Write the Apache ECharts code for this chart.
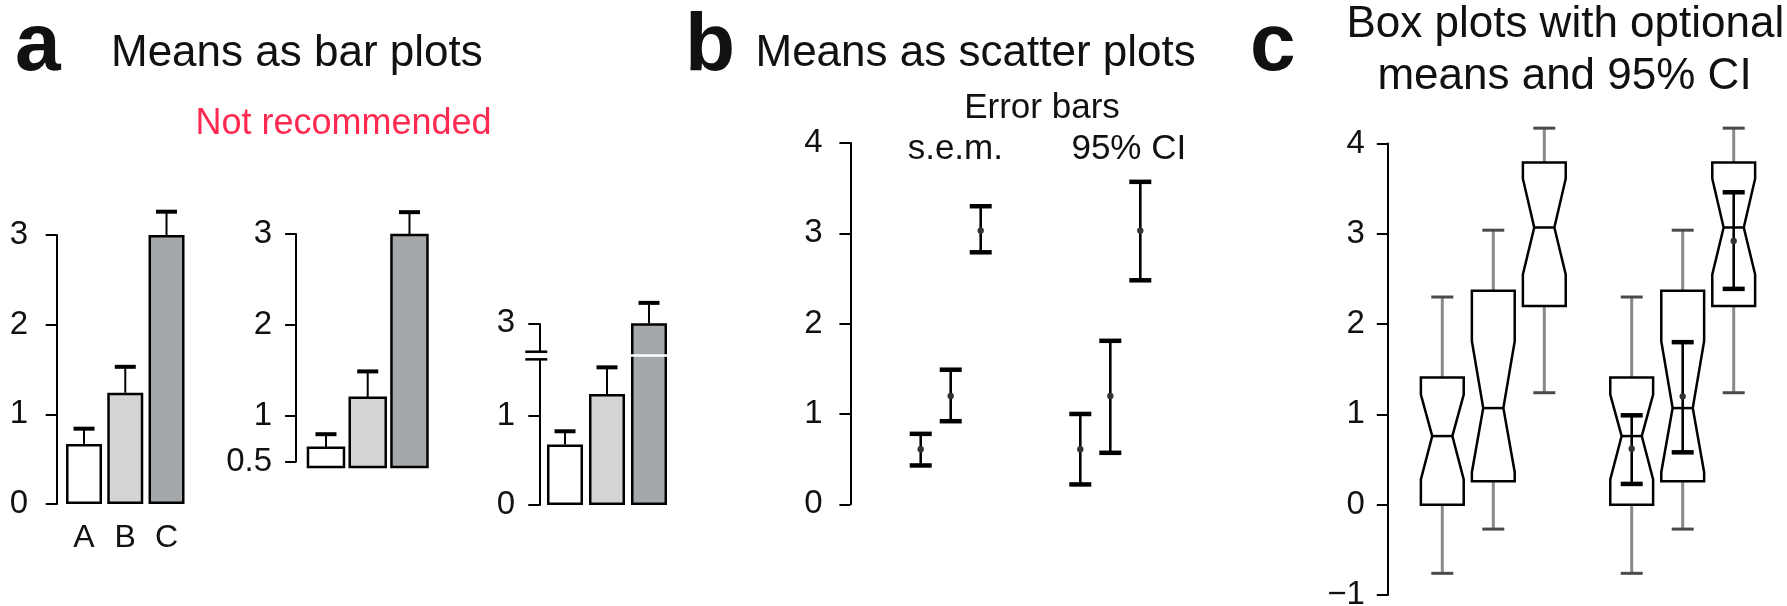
<!DOCTYPE html>
<html><head><meta charset="utf-8">
<script src="https://cdn.jsdelivr.net/npm/echarts@6/dist/echarts.min.js"></script>
<style>html,body{margin:0;padding:0;background:#fff}#c{width:1787px;height:606px}</style>
</head><body><div id="c"></div>
<script>
// ---------------- data ----------------
const categories = ['A', 'B', 'C'];
// panel a (three bar-plot variants)
const a1Means = [0.67, 1.24, 3.00];
const a1Upper = [0.84, 1.53, 3.26];
const a2Means = [0.65, 1.20, 2.99];
const a2Upper = [0.80, 1.49, 3.24];
const a2Base = 0.44;
const a3Means = [0.68, 1.25, 3.00];
const a3Upper = [0.83, 1.55, 3.23];
const a3Break = [1.64, 2.68];
const a1Ticks = [0, 1, 2, 3];
const a2Ticks = [0.5, 1, 2, 3];
const a3Ticks = [0, 1, 3];
// panel b (means with error bars)
const bMeans = [0.61, 1.20, 3.03];
const semLow = [0.43, 0.92, 2.79];
const semHigh = [0.78, 1.49, 3.30];
const ciLow = [0.22, 0.57, 2.48];
const ciHigh = [1.00, 1.81, 3.57];
const bTicks = [0, 1, 2, 3, 4];
// panel c (notched box plots)
const whiskerLow = [-0.76, -0.27, 1.24];
const boxQ1 = [0.00, 0.26, 2.20];
const notchLow = [0.28, 0.36, 2.55];
const boxMedian = [0.76, 1.07, 3.07];
const notchHigh = [1.22, 1.81, 3.61];
const boxQ3 = [1.41, 2.37, 3.79];
const whiskerHigh = [2.30, 3.04, 4.17];
const cMeans = [0.62, 1.20, 2.92];
const cCiLow = [0.23, 0.58, 2.39];
const cCiHigh = [0.99, 1.80, 3.46];
const cTicks = [-1, 0, 1, 2, 3, 4];

// ---------------- style ----------------
const FONT = "'Liberation Sans', Arial, Helvetica, sans-serif";
const BAR_FILL = ['#ffffff', '#d3d5d5', '#a5a8aa'];
const INK = '#111';

function yAx(grid, ticks, offset, margin, extra) {
  return Object.assign({
    type: 'value', gridIndex: grid,
    min: ticks[0], max: ticks[ticks.length - 1], interval: 1,
    offset: offset,
    axisLine: { show: true, lineStyle: { color: '#000', width: 2 } },
    axisTick: { show: true, length: 11, lineStyle: { color: '#000', width: 2 }, customValues: ticks },
    axisLabel: { show: true, color: INK, fontSize: 33, fontFamily: FONT, margin: margin,
      customValues: ticks,
      formatter: v => String(v).replace('-', '\u2212') },
    splitLine: { show: false }
  }, extra || {});
}
function yHidden(grid, ticks) {
  return { type: 'value', gridIndex: grid, min: ticks[0], max: ticks[ticks.length - 1], show: false, splitLine: { show: false } };
}
function xAx(grid, showLabels) {
  return {
    type: 'category', gridIndex: grid, data: categories,
    axisLine: { show: false }, axisTick: { show: false }, splitLine: { show: false },
    axisLabel: { show: showLabels, color: INK, fontSize: 32, fontFamily: FONT, margin: 18 }
  };
}
function gridAt(left, top, width, height) {
  return { left, top, width, height, containLabel: false, outerBoundsMode: 'none' };
}

// error bar going up from the bar top
function upErr(params, api) {
  const i = api.value(0);
  const p0 = api.coord([i, api.value(1)]);
  const p1 = api.coord([i, api.value(2)]);
  const h = 10.5;
  return { type: 'group', children: [
    { type: 'line', shape: { x1: p0[0], y1: p0[1], x2: p1[0], y2: p1[1] }, style: { stroke: '#000', lineWidth: 2 } },
    { type: 'line', shape: { x1: p1[0] - h, y1: p1[1], x2: p1[0] + h, y2: p1[1] }, style: { stroke: '#000', lineWidth: 4 } }
  ]};
}
// bar drawn from a base value (panel a, middle)
function baseBar(params, api) {
  const i = api.value(0);
  const p0 = api.coord([i, api.value(1)]);
  const p1 = api.coord([i, api.value(2)]);
  const w = 36;
  return { type: 'rect', shape: { x: p0[0] - w / 2, y: p1[1], width: w, height: p0[1] - p1[1] },
    style: { fill: BAR_FILL[i], stroke: '#000', lineWidth: 2.5 } };
}
// mean with two-sided error bar
function ciErr(params, api) {
  const i = api.value(0);
  const pm = api.coord([i, api.value(1)]);
  const pl = api.coord([i, api.value(2)]);
  const ph = api.coord([i, api.value(3)]);
  const x = pm[0], h = 11;
  return { type: 'group', children: [
    { type: 'line', shape: { x1: x, y1: pl[1], x2: x, y2: ph[1] }, style: { stroke: '#000', lineWidth: 2.6 } },
    { type: 'line', shape: { x1: x - h, y1: pl[1], x2: x + h, y2: pl[1] }, style: { stroke: '#000', lineWidth: 4.5 } },
    { type: 'line', shape: { x1: x - h, y1: ph[1], x2: x + h, y2: ph[1] }, style: { stroke: '#000', lineWidth: 4.5 } },
    { type: 'circle', shape: { cx: x, cy: pm[1], r: 3.2 }, style: { fill: '#333' } }
  ]};
}
// notched box plot
function notchedBox(params, api) {
  const i = api.value(0);
  const y = k => api.coord([i, api.value(k)])[1];
  const x = api.coord([i, api.value(4)])[0];
  const bw = api.size([1, 0])[0] * 0.84, h = bw / 2, ins = bw * 0.265;
  const yWL = y(1), yQ1 = y(2), yNL = y(3), yMed = y(4), yNH = y(5), yQ3 = y(6), yWH = y(7);
  const xl = x - h, xr = x + h, cap = 11;
  const grey = { stroke: '#8a8a8a', lineWidth: 3 };
  const capS = { stroke: '#4a4a4a', lineWidth: 3 };
  return { type: 'group', children: [
    { type: 'line', shape: { x1: x, y1: yQ3, x2: x, y2: yWH }, style: grey },
    { type: 'line', shape: { x1: x, y1: yQ1, x2: x, y2: yWL }, style: grey },
    { type: 'line', shape: { x1: x - cap, y1: yWH, x2: x + cap, y2: yWH }, style: capS },
    { type: 'line', shape: { x1: x - cap, y1: yWL, x2: x + cap, y2: yWL }, style: capS },
    { type: 'polygon', shape: { points: [[xl, yQ3], [xr, yQ3], [xr, yNH], [xr - ins, yMed], [xr, yNL], [xr, yQ1],
        [xl, yQ1], [xl, yNL], [xl + ins, yMed], [xl, yNH]] },
      style: { fill: '#fff', stroke: '#000', lineWidth: 2.5, lineJoin: 'miter' } },
    { type: 'line', shape: { x1: xl + ins, y1: yMed, x2: xr - ins, y2: yMed }, style: { stroke: '#000', lineWidth: 2.5 } }
  ]};
}
// "=" break mark on the axis of panel a, right, plus thin white cut through the bars
function breakMark(params, api) {
  const lo = api.coord([0, api.value(1)])[1];
  const hi = api.coord([0, api.value(2)])[1];
  const cs = params.coordSys;
  const ax = cs.x - 4.7;
  const mid = (lo + hi) / 2;
  return { type: 'group', children: [
    { type: 'line', shape: { x1: cs.x, y1: mid, x2: cs.x + cs.width, y2: mid }, style: { stroke: '#fff', lineWidth: 2.5 } },
    { type: 'rect', shape: { x: ax - 3, y: hi, width: 6, height: lo - hi }, style: { fill: '#fff' } },
    { type: 'line', shape: { x1: ax - 14, y1: lo, x2: ax + 8, y2: lo }, style: { stroke: '#000', lineWidth: 2.5 } },
    { type: 'line', shape: { x1: ax - 14, y1: hi, x2: ax + 8, y2: hi }, style: { stroke: '#000', lineWidth: 2.5 } }
  ]};
}

const idx = categories.map((c, i) => i);

const option = {
  animation: false,
  backgroundColor: '#fff',
  grid: [
    gridAt(63.4, 235, 123.75, 269),      // a1
    gridAt(305.1, 234, 125.25, 227.5),   // a2
    gridAt(544, 323.3, 126, 181.7),      // a3
    gridAt(905.7, 143, 90, 361.3),       // b s.e.m.
    gridAt(1065.3, 143, 90, 361.3),      // b 95% CI
    gridAt(1416.8, 143.5, 153, 451.5),   // c boxes
    gridAt(1606.2, 143.5, 153, 451.5)    // c boxes + CI
  ],
  xAxis: [xAx(0, true), xAx(1, false), xAx(2, false), xAx(3, false), xAx(4, false), xAx(5, false), xAx(6, false)],
  yAxis: [
    yAx(0, a1Ticks, 6.7, 28.7),
    yAx(1, a2Ticks, 9, 24),
    yAx(2, a3Ticks, 4.7, 24.3, {
      breaks: [{ start: a3Break[0], end: a3Break[1], gap: '4.2%' }],
      breakArea: { show: false, expandOnClick: false }
    }),
    yAx(3, bTicks, 55.3, 27.7),
    yHidden(4, bTicks),
    yAx(5, cTicks, 29, 23),
    yHidden(6, cTicks)
  ],
  series: [
    { type: 'bar', xAxisIndex: 0, yAxisIndex: 0, barWidth: 36, z: 2,
      data: a1Means.map((v, i) => ({ value: v, itemStyle: { color: BAR_FILL[i] } })),
      itemStyle: { borderColor: '#000', borderWidth: 2.5 } },
    { type: 'custom', xAxisIndex: 0, yAxisIndex: 0, renderItem: upErr, encode: { x: 0, y: [1, 2] },
      data: idx.map(i => [i, a1Means[i], a1Upper[i]]) },
    { type: 'custom', xAxisIndex: 1, yAxisIndex: 1, renderItem: baseBar, encode: { x: 0, y: [1, 2] },
      data: idx.map(i => [i, a2Base, a2Means[i]]) },
    { type: 'custom', xAxisIndex: 1, yAxisIndex: 1, renderItem: upErr, encode: { x: 0, y: [1, 2] },
      data: idx.map(i => [i, a2Means[i], a2Upper[i]]) },
    { type: 'bar', xAxisIndex: 2, yAxisIndex: 2, barWidth: 36, z: 2,
      data: a3Means.map((v, i) => ({ value: v, itemStyle: { color: BAR_FILL[i] } })),
      itemStyle: { borderColor: '#000', borderWidth: 2.5 } },
    { type: 'custom', xAxisIndex: 2, yAxisIndex: 2, renderItem: upErr, encode: { x: 0, y: [1, 2] },
      data: idx.map(i => [i, a3Means[i], a3Upper[i]]) },
    { type: 'custom', xAxisIndex: 2, yAxisIndex: 2, renderItem: breakMark, encode: { x: 0, y: [1, 2] }, z: 4,
      data: [[0, a3Break[0], a3Break[1]]] },
    { type: 'custom', xAxisIndex: 3, yAxisIndex: 3, renderItem: ciErr, encode: { x: 0, y: [1, 2, 3] },
      data: idx.map(i => [i, bMeans[i], semLow[i], semHigh[i]]) },
    { type: 'custom', xAxisIndex: 4, yAxisIndex: 4, renderItem: ciErr, encode: { x: 0, y: [1, 2, 3] },
      data: idx.map(i => [i, bMeans[i], ciLow[i], ciHigh[i]]) },
    { type: 'custom', xAxisIndex: 5, yAxisIndex: 5, renderItem: notchedBox, encode: { x: 0, y: [1, 2, 3, 4, 5, 6, 7] },
      data: idx.map(i => [i, whiskerLow[i], boxQ1[i], notchLow[i], boxMedian[i], notchHigh[i], boxQ3[i], whiskerHigh[i]]) },
    { type: 'custom', xAxisIndex: 6, yAxisIndex: 6, renderItem: notchedBox, encode: { x: 0, y: [1, 2, 3, 4, 5, 6, 7] },
      data: idx.map(i => [i, whiskerLow[i], boxQ1[i], notchLow[i], boxMedian[i], notchHigh[i], boxQ3[i], whiskerHigh[i]]) },
    { type: 'custom', xAxisIndex: 6, yAxisIndex: 6, renderItem: ciErr, encode: { x: 0, y: [1, 2, 3] }, z: 5,
      data: idx.map(i => [i, cMeans[i], cCiLow[i], cCiHigh[i]]) }
  ],
  graphic: [
    { type: 'text', x: 15, y: 47.5, style: { text: 'a', font: `bold 82px ${FONT}`, fill: INK, textAlign: 'left', textVerticalAlign: 'middle' } },
    { type: 'text', x: 111, y: 53.7, style: { text: 'Means as bar plots', font: `44px ${FONT}`, fill: INK, textAlign: 'left', textVerticalAlign: 'middle' } },
    { type: 'text', x: 195.5, y: 123.8, style: { text: 'Not recommended', font: `36px ${FONT}`, fill: '#ff2a52', textAlign: 'left', textVerticalAlign: 'middle' } },
    { type: 'text', x: 685, y: 47.5, style: { text: 'b', font: `bold 82px ${FONT}`, fill: INK, textAlign: 'left', textVerticalAlign: 'middle' } },
    { type: 'text', x: 755.5, y: 53.7, style: { text: 'Means as scatter plots', font: `44px ${FONT}`, fill: INK, textAlign: 'left', textVerticalAlign: 'middle' } },
    { type: 'text', x: 1042, y: 108.8, style: { text: 'Error bars', font: `35px ${FONT}`, fill: INK, textAlign: 'center', textVerticalAlign: 'middle' } },
    { type: 'text', x: 955.3, y: 149.2, style: { text: 's.e.m.', font: `35px ${FONT}`, fill: INK, textAlign: 'center', textVerticalAlign: 'middle' } },
    { type: 'text', x: 1128.8, y: 149.2, style: { text: '95% CI', font: `35px ${FONT}`, fill: INK, textAlign: 'center', textVerticalAlign: 'middle' } },
    { type: 'text', x: 1250, y: 47.5, style: { text: 'c', font: `bold 82px ${FONT}`, fill: INK, textAlign: 'left', textVerticalAlign: 'middle' } },
    { type: 'text', x: 1565.3, y: 24.7, style: { text: 'Box plots with optional', font: `44px ${FONT}`, fill: INK, textAlign: 'center', textVerticalAlign: 'middle' } },
    { type: 'text', x: 1564.5, y: 76.7, style: { text: 'means and 95% CI', font: `44px ${FONT}`, fill: INK, textAlign: 'center', textVerticalAlign: 'middle' } }
  ]
};

const chart = echarts.init(document.getElementById('c'), null, { renderer: 'canvas' });
chart.setOption(option);
</script>
</body></html>
